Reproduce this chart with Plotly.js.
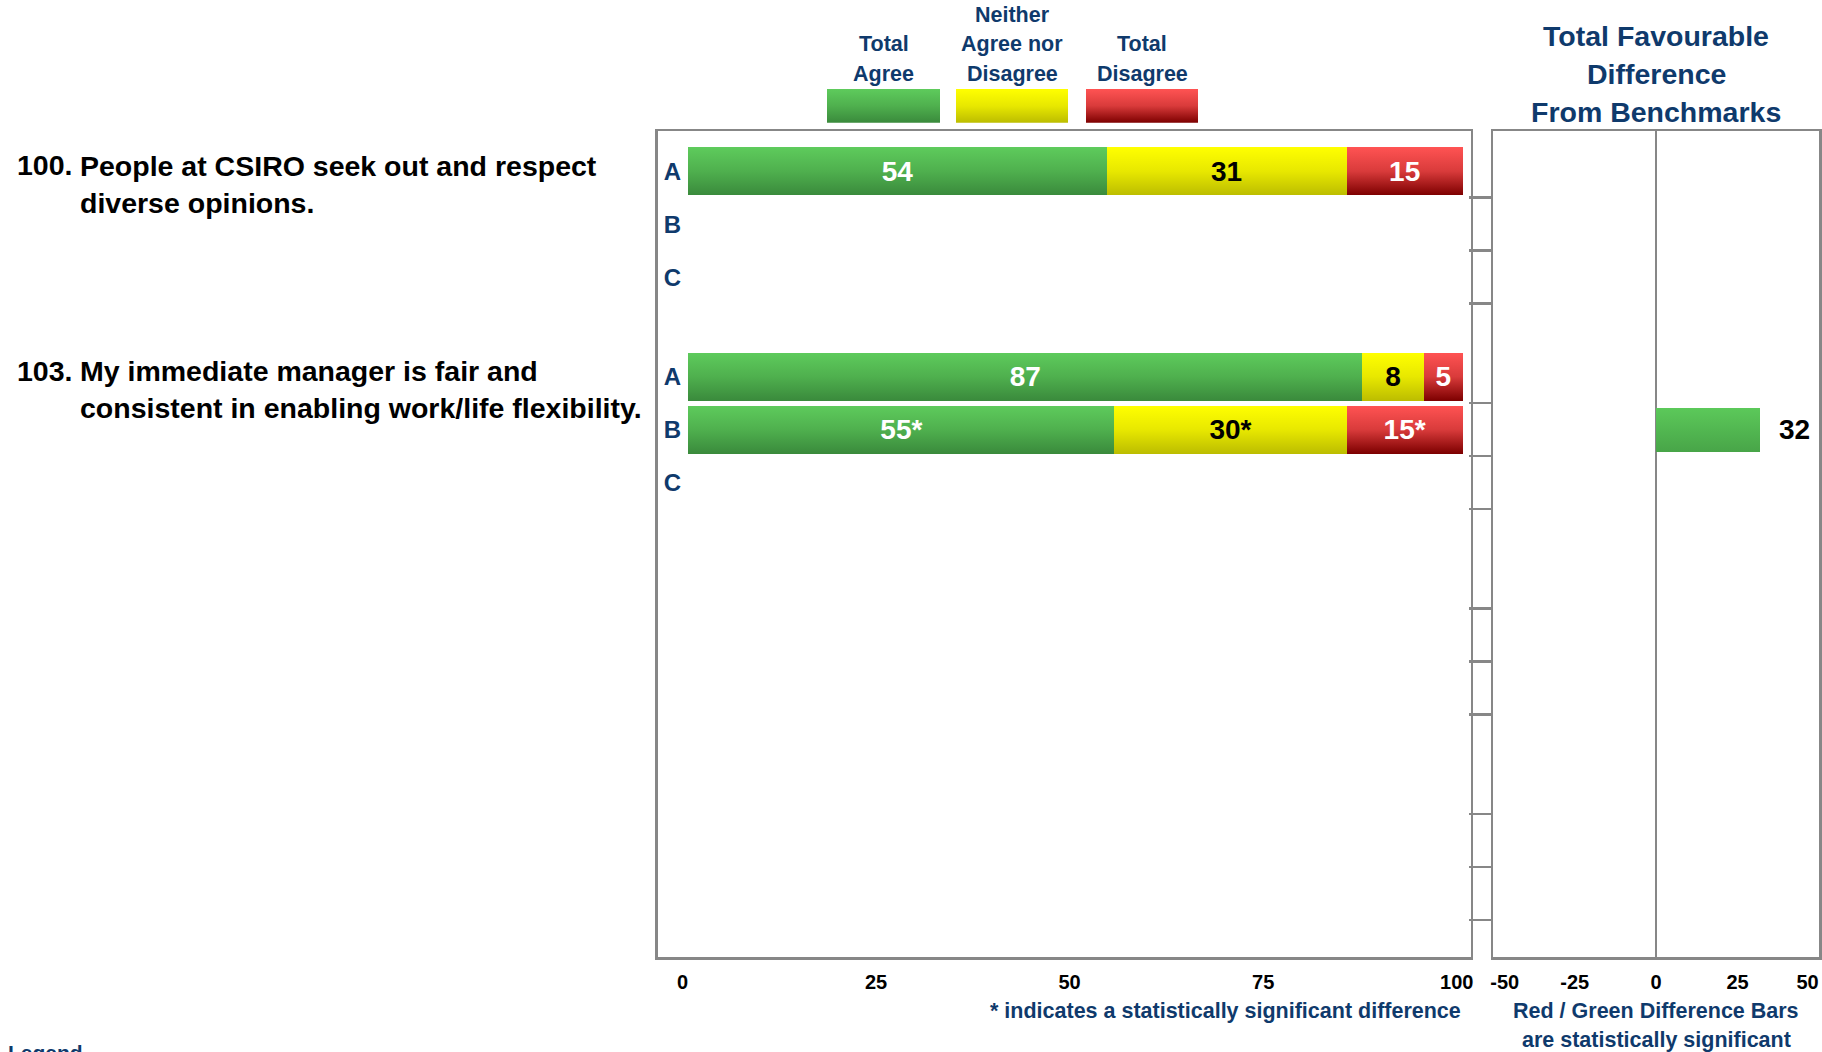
<!DOCTYPE html>
<html>
<head>
<meta charset="utf-8">
<script src="https://cdn.plot.ly/plotly-3.0.1.min.js"></script>
<style>
  html, body { margin: 0; padding: 0; background: #ffffff; }
  #chart { width: 1822px; height: 1052px; }
</style>
</head>
<body>
<div id="chart"></div>
<script>
// ---------------- DATA ----------------
const questionNums = ["100.", "103.", "", ""];
const questionTexts = [
  "People at CSIRO seek out and respect<br>diverse opinions.",
  "My immediate manager is fair and<br>consistent in enabling work/life flexibility.",
  "",
  ""
];
const rowLetters = ["A", "B", "C"];
// 4 question slots x 3 rows (A, B, C)
const totalAgree    = [54, null, null,  87, 55, null,  null, null, null,  null, null, null];
const neitherAgree  = [31, null, null,   8, 30, null,  null, null, null,  null, null, null];
const totalDisagree = [15, null, null,   5, 15, null,  null, null, null,  null, null, null];
const significant   = [false, false, false,  false, true, false,  false, false, false,  false, false, false];
const favDifference = [null, null, null,  null, 32, null,  null, null, null,  null, null, null];
const pctTicks = [0, 25, 50, 75, 100];
const diffTicks = [-50, -25, 0, 25, 50];
const legendLabels = ["Total<br>Agree", "Neither<br>Agree nor<br>Disagree", "Total<br>Disagree"];
const chartTitleLines = ["Total Favourable", "Difference", "From Benchmarks"];
const footLeft = "* indicates a statistically significant difference";
const footRight = ["Red / Green Difference Bars", "are statistically significant"];

// ---------------- STYLE / LAYOUT CONSTANTS ----------------
const W = 1822, H = 1052;
const FONT = "Liberation Sans, Arial, Helvetica, sans-serif";
const NAVY = "#0f3a6c";
const GRAY = "#878787";
const C_GREEN = "#4caa4b", C_YELLOW = "#dede00", C_RED = "#c02828", C_DIFF = "#52b751";
const GRADS = {};
GRADS[C_GREEN]  = ["#5ecb5c", "#4fb04e", "#3a8a3c"];
GRADS[C_YELLOW] = ["#ffff00", "#e8e800", "#bcbd00"];
GRADS[C_RED]    = ["#ff5353", "#d93b3b", "#7d0000"];
GRADS[C_DIFF]   = ["#5cc95a", "#52b751", "#48a548"];

const GP = 3.877;      // group pitch in row units
const TOP = 0.7585;    // first row centre
const YMAX = 15.585;   // axis span in row units
const px = v => v / W;
const py = v => 1 - v / H;

const rowPos = totalAgree.map((_, i) => Math.floor(i / 3) * GP + TOP + (i % 3));
const letterPos = [], letterText = [];
rowPos.forEach((y, i) => {
  if (questionNums[Math.floor(i / 3)] !== "") { letterPos.push(y); letterText.push(rowLetters[i % 3]); }
});
const boundaries = rowPos.map(y => y + 0.5);

const lbl = (v, i) => v == null ? "" : String(v) + (significant[i] ? "*" : "");

function segTrace(vals, color, txtColor) {
  return {
    type: "bar", orientation: "h", xaxis: "x", yaxis: "y",
    x: vals, y: rowPos, width: 0.905,
    marker: { color: color, line: { width: 0 } },
    text: vals.map(lbl), textposition: "inside", insidetextanchor: "middle",
    constraintext: "none", textangle: 0,
    textfont: { family: FONT, size: 28, color: txtColor, weight: "bold" },
    hoverinfo: "x", showlegend: false
  };
}

const traces = [
  segTrace(totalAgree, C_GREEN, "#ffffff"),
  segTrace(neitherAgree, C_YELLOW, "#000000"),
  segTrace(totalDisagree, C_RED, "#ffffff"),
  {
    type: "bar", orientation: "h", xaxis: "x2", yaxis: "y2",
    x: favDifference, y: rowPos, width: 0.83,
    marker: { color: C_DIFF, line: { width: 0 } },
    text: favDifference.map(v => v == null ? "" : "\u00a0\u00a0" + v),
    textposition: "outside", cliponaxis: false, constraintext: "none",
    textfont: { family: FONT, size: 28, color: "#000000", weight: "bold" },
    hoverinfo: "x", showlegend: false
  }
];

const annotations = [];
const shapes = [];
// question labels
questionNums.forEach((q, g) => {
  if (!q) return;
  const yA = rowPos[g * 3];
  annotations.push({ xref: "paper", yref: "y", x: px(15), y: yA, xanchor: "left", yanchor: "middle",
    yshift: 6, text: q, showarrow: false, font: { family: FONT, size: 28.5, color: "#000", weight: "bold" } });
  annotations.push({ xref: "paper", yref: "y", x: px(78), y: yA, xanchor: "left", yanchor: "middle",
    yshift: -13, align: "left", text: questionTexts[g], showarrow: false,
    font: { family: FONT, size: 28.5, color: "#000", weight: "bold" } });
});
// legend swatches + labels
const legColors = [C_GREEN, C_YELLOW, C_RED];
const legX = [[827, 940], [956, 1068], [1086, 1198]];
legColors.forEach((c, i) => {
  shapes.push({ type: "rect", xref: "paper", yref: "paper", x0: px(legX[i][0]), x1: px(legX[i][1]),
    y0: py(122.7), y1: py(89), fillcolor: c, line: { width: 0 } });
  const lines = legendLabels[i].split("<br>");
  lines.forEach((t, j) => {
    annotations.push({ xref: "paper", yref: "paper", x: px((legX[i][0] + legX[i][1]) / 2),
      y: py(73.5 - (lines.length - 1 - j) * 29), xanchor: "center", yanchor: "middle", text: t,
      showarrow: false, font: { family: FONT, size: 21.5, color: NAVY, weight: "bold" } });
  });
});
// right title
chartTitleLines.forEach((t, j) => {
  annotations.push({ xref: "x2", yref: "paper", x: 0, y: py(36 + j * 38), xanchor: "center", yanchor: "middle",
    text: t, showarrow: false, font: { family: FONT, size: 28.5, color: NAVY, weight: "bold" } });
});
// footnotes
annotations.push({ xref: "x", yref: "paper", x: 100, y: py(1011), xanchor: "right", yanchor: "middle",
  text: footLeft, showarrow: false, font: { family: FONT, size: 21.5, color: NAVY, weight: "bold" } });
footRight.forEach((t, i) => {
  annotations.push({ xref: "x2", yref: "paper", x: 0, y: py(1011 + i * 29), xanchor: "center", yanchor: "middle",
    text: t, showarrow: false, font: { family: FONT, size: 21.5, color: NAVY, weight: "bold" } });
});
annotations.push({ xref: "paper", yref: "paper", x: px(6), y: py(1039), xanchor: "left", yanchor: "top",
  text: "Legend", showarrow: false, font: { family: FONT, size: 21, color: NAVY, weight: "bold" } });

const yDom = [py(957), py(131)];
const axisLine = { showline: true, mirror: true, linecolor: GRAY, linewidth: 2.5, showgrid: false, fixedrange: true };
const layout = {
  width: W, height: H,
  margin: { l: 0, r: 0, t: 0, b: 0, pad: 0 },
  paper_bgcolor: "#ffffff", plot_bgcolor: "#ffffff",
  barmode: "stack", bargap: 0,
  showlegend: false,
  font: { family: FONT },
  xaxis: Object.assign({}, axisLine, {
    domain: [px(657.5), px(1470.5)], range: [-4, 101], anchor: "y",
    tickvals: pctTicks, ticks: "", zeroline: false,
    ticklabelstandoff: 5, ticklabelshift: -6,
    tickfont: { family: FONT, size: 20, color: "#000", weight: "bold" }
  }),
  yaxis: Object.assign({}, axisLine, {
    domain: yDom, range: [YMAX, 0], anchor: "x",
    tickvals: letterPos, ticktext: letterText, ticks: "",
    ticklabelposition: "inside", ticklabelstandoff: 8, zeroline: false,
    tickfont: { family: FONT, size: 24, color: NAVY, weight: "bold" }
  }),
  xaxis2: Object.assign({}, axisLine, {
    domain: [px(1493.3), px(1819)], range: [-50, 50], anchor: "y2",
    tickvals: diffTicks.map(v => Math.abs(v) === 50 ? v * 0.93 : v),
    ticktext: diffTicks.map(String), ticks: "",
    zeroline: true, zerolinecolor: GRAY, zerolinewidth: 2.5,
    ticklabelstandoff: 5,
    tickfont: { family: FONT, size: 20, color: "#000", weight: "bold" }
  }),
  yaxis2: Object.assign({}, axisLine, {
    domain: yDom, range: [YMAX, 0], anchor: "x2", side: "left",
    tickvals: boundaries, ticks: "outside", ticklen: 22, tickwidth: 2.5, tickcolor: GRAY,
    showticklabels: false, zeroline: false
  }),
  annotations: annotations,
  shapes: shapes
};

function hexToRgb(h) {
  const n = parseInt(h.slice(1), 16);
  return "rgb(" + ((n >> 16) & 255) + ", " + ((n >> 8) & 255) + ", " + (n & 255) + ")";
}

function applyGradients(gd) {
  const NS = "http://www.w3.org/2000/svg";
  const svg = gd.querySelector("svg.main-svg");
  let defs = svg.querySelector("defs");
  if (!defs) { defs = document.createElementNS(NS, "defs"); svg.insertBefore(defs, svg.firstChild); }
  const map = {};
  Object.keys(GRADS).forEach((hex, k) => {
    const id = "grad" + k;
    const lg = document.createElementNS(NS, "linearGradient");
    lg.setAttribute("id", id);
    lg.setAttribute("x1", "0"); lg.setAttribute("y1", "0");
    lg.setAttribute("x2", "0"); lg.setAttribute("y2", "1");
    const stops = GRADS[hex];
    stops.forEach((c, j) => {
      const st = document.createElementNS(NS, "stop");
      st.setAttribute("offset", String(j / (stops.length - 1)));
      st.setAttribute("stop-color", c);
      lg.appendChild(st);
    });
    defs.appendChild(lg);
    map[hexToRgb(hex)] = "url(#" + id + ")";
  });
  gd.querySelectorAll("path").forEach(p => {
    const f = p.style.fill;
    if (map[f]) p.style.fill = map[f];
  });
}

Plotly.newPlot("chart", traces, layout, { displayModeBar: false, staticPlot: true })
  .then(gd => applyGradients(gd));
</script>
</body>
</html>
